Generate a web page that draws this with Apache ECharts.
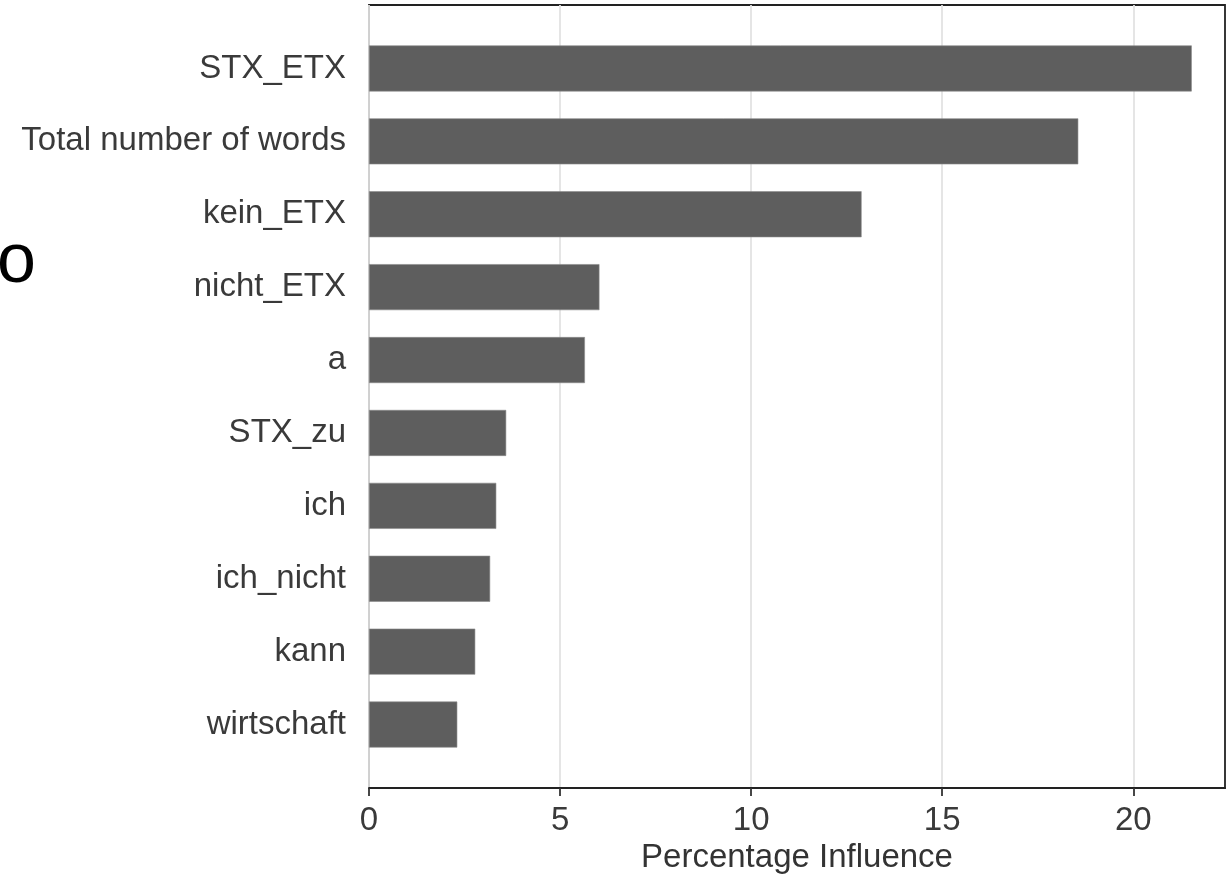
<!DOCTYPE html>
<html>
<head>
<meta charset="utf-8">
<script src="https://cdn.jsdelivr.net/npm/echarts@6/dist/echarts.min.js"></script>
<style>html,body{margin:0;padding:0;background:#fff}#c{width:1230px;height:874px}</style>
</head>
<body>
<div id="c"></div>
<script>
const categories = ['STX_ETX','Total number of words','kein_ETX','nicht_ETX','a','STX_zu','ich','ich_nicht','kann','wirtschaft'];
const influence = [21.53, 18.56, 12.89, 6.03, 5.65, 3.59, 3.33, 3.17, 2.78, 2.31];
const xTicks = [0, 5, 10, 15, 20];
const xTitle = 'Percentage Influence';
const strayText = 'o';

const FONT = 'Liberation Sans, Arial, sans-serif';
const chart = echarts.init(document.getElementById('c'), null, {renderer: 'canvas'});
chart.setOption({
  animation: false,
  backgroundColor: '#fff',
  grid: [
    {left: 369, right: 5, top: 5, bottom: 86, show: true, borderColor: '#222', borderWidth: 1.8, backgroundColor: 'transparent', containLabel: false, outerBoundsMode: 'none'},
    {left: 369, right: 5, top: 32, bottom: 113, show: false, containLabel: false, outerBoundsMode: 'none'}
  ],
  xAxis: [
    {gridIndex: 0, type: 'value', min: 0, max: 22.4, interval: 5,
     axisLine: {show: true, lineStyle: {color: '#222', width: 1.8}},
     axisTick: {show: true, length: 8, lineStyle: {color: '#333', width: 1.8}, customValues: xTicks},
     axisLabel: {color: '#3a3a3a', fontSize: 33, fontFamily: FONT, margin: 16, customValues: xTicks},
     splitLine: {show: true, lineStyle: {color: '#e3e3e3', width: 1.8}},
     name: xTitle, nameLocation: 'middle', nameGap: 52,
     nameTextStyle: {color: '#333', fontSize: 33, fontFamily: FONT}},
    {gridIndex: 1, type: 'value', min: 0, max: 22.4, show: false}
  ],
  yAxis: [
    {gridIndex: 0, type: 'value', min: 0, max: 1, show: false},
    {gridIndex: 1, type: 'category', data: categories, inverse: true,
     axisLine: {show: false}, axisTick: {show: false},
     axisLabel: {color: '#3a3a3a', fontSize: 33, fontFamily: FONT, margin: 23, padding: [4, 0, 0, 0]},
     splitLine: {show: false}}
  ],
  series: [{
    type: 'bar', xAxisIndex: 1, yAxisIndex: 1, data: influence,
    barWidth: 46,
    itemStyle: {color: '#5e5e5e', borderColor: '#8a8a8a', borderWidth: 0.6}
  }],
  graphic: [{
    type: 'text', left: -3, top: 228,
    style: {text: strayText, fontSize: 70, fontFamily: FONT, fill: '#000'}
  }]
});
</script>
</body>
</html>
